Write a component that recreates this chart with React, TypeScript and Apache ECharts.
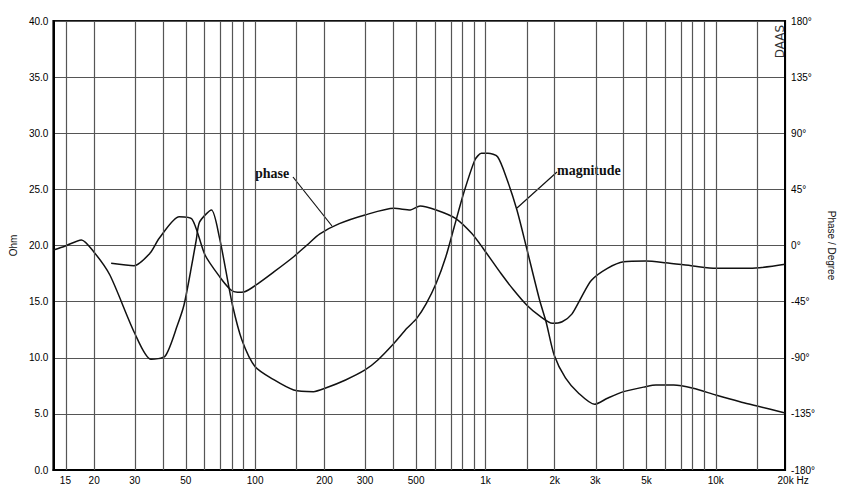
import React, { useEffect, useRef } from 'react';
import * as echarts from 'echarts';

// Magnitude (Ohm) vs frequency (Hz)
const magFreq = [13.3, 15, 17.6, 19.9, 23.4, 30, 35.3, 40.7, 46, 49.1, 52.4, 55.5, 57.4, 64.6, 70.1, 74.3, 79.7, 87.6, 100, 121, 147, 179, 201, 247, 300, 341, 401, 456, 503, 554, 611, 673, 732, 804, 900, 960, 1025, 1129, 1243, 1370, 1510, 1718, 1833, 1987, 2225, 2532, 2977, 3385, 3981, 4958, 5499, 6567, 7971, 10000, 12740, 14970, 20000];
const magOhm = [19.6, 19.96, 20.5, 19.45, 17.37, 12.18, 9.86, 10.16, 12.92, 14.7, 17.64, 20.49, 22.1, 23.16, 20.64, 17.96, 14.7, 11.58, 9.2, 8.02, 7.13, 6.98, 7.28, 8.02, 8.91, 9.8, 11.29, 12.62, 13.51, 14.85, 16.63, 19.0, 21.67, 24.65, 27.62, 28.21, 28.21, 27.91, 25.84, 23.16, 19.75, 15.14, 13.21, 10.24, 8.2, 6.86, 5.85, 6.39, 6.98, 7.42, 7.57, 7.57, 7.28, 6.68, 6.08, 5.73, 5.08];

// Phase (degree) vs frequency (Hz)
const phaseFreq = [23.7, 29.8, 34.9, 38.4, 46.8, 53.2, 60.6, 70.1, 78.5, 83.7, 89.3, 103.3, 121, 147, 168, 191, 232, 300, 401, 472, 520, 611, 741, 871, 976, 1166, 1326, 1510, 1718, 1954, 2153, 2372, 2600, 2880, 3385, 3981, 4958, 6058, 7971, 10000, 14050, 20000];
const phaseDeg = [-14.3, -16.2, -6.3, 6, 23.1, 21.2, -7.6, -25, -35.7, -37.5, -37.3, -30.3, -21, -9, 0.4, 9.3, 17.5, 24.5, 29.8, 28.5, 31.7, 28.5, 21.8, 9.8, -2.2, -22.3, -35.7, -47.7, -56.5, -62.4, -61.1, -55, -42, -28, -18.3, -13, -12.4, -13.8, -16.4, -18.3, -18.3, -15];

// Axis ticks
const freqLabels = [15, 20, 30, 50, 100, 200, 300, 500, 1000, 2000, 3000, 5000, 10000, 20000];
const gridFreqs = [15, 20, 30, 40, 50, 60, 70, 80, 90, 100, 150, 200, 300, 400, 500, 600, 700, 800, 900, 1000, 1500, 2000, 3000, 4000, 5000, 6000, 7000, 8000, 9000, 10000, 15000];
const freqMin = 13.3;
const freqMax = 20000;

const lg = (v: number) => Math.log10(v);

export default function App() {
  const ref = useRef<HTMLDivElement>(null);
  useEffect(() => {
    if (!ref.current) return;
    const chart = echarts.init(ref.current, null, { renderer: 'svg' });
    const labelFont = { fontFamily: 'Liberation Sans Narrow, Liberation Sans, Arial', fontSize: 10, color: '#000' };
    const magData = magFreq.map((f, i) => [lg(f), magOhm[i]]);
    const phaseData = phaseFreq.map((f, i) => [lg(f), phaseDeg[i]]);
    chart.setOption({
      animation: false,
      backgroundColor: '#fff',
      grid: { left: 39, right: 52, top: 21, bottom: 27, show: true, borderColor: '#111', borderWidth: 2 },
      xAxis: {
        type: 'value',
        min: lg(freqMin),
        max: lg(freqMax),
        axisLine: { show: true, lineStyle: { color: '#000', width: 2 } },
        axisTick: { show: false },
        splitLine: { show: false },
        axisLabel: {
          ...labelFont,
          margin: 5,
          customValues: freqLabels.map(lg),
          formatter: (v: number) => {
            const f = Math.round(Math.pow(10, v));
            if (f === 20000) return '{u|20k Hz}';
            return f >= 1000 ? f / 1000 + 'k' : String(f);
          },
          rich: { u: { ...labelFont, padding: [0, 0, 0, 16] } },
        },
      },
      yAxis: [
        {
          type: 'value',
          min: 0,
          max: 40,
          interval: 5,
          name: 'Ohm',
          nameLocation: 'middle',
          nameRotate: 90,
          nameGap: 26,
          nameTextStyle: { fontFamily: 'Liberation Sans Narrow, Liberation Sans, Arial', fontSize: 10, color: '#111' },
          axisLine: { show: true, lineStyle: { color: '#000', width: 2 } },
          axisTick: { show: false },
          axisLabel: { ...labelFont, margin: 5, formatter: (v: number) => v.toFixed(1) },
          splitLine: { show: true, lineStyle: { color: '#555', width: 1.2 } },
        },
        {
          type: 'value',
          min: -180,
          max: 180,
          interval: 45,
          position: 'right',
          name: 'Phase / Degree',
          nameLocation: 'middle',
          nameRotate: -90,
          nameGap: 30,
          nameTextStyle: { fontFamily: 'Liberation Sans Narrow, Liberation Sans, Arial', fontSize: 10, color: '#111' },
          axisLine: { show: true, lineStyle: { color: '#000', width: 2 } },
          axisTick: { show: false },
          axisLabel: { ...labelFont, margin: 6, formatter: (v: number) => v + '°' },
          splitLine: { show: false },
        },
      ],
      series: [
        {
          name: 'grid',
          type: 'line',
          data: magData,
          z: 1,
          showSymbol: false,
          silent: true,
          lineStyle: { opacity: 0, width: 0 },
          markLine: {
            silent: true,
            symbol: ['none', 'none'],
            label: { show: false },
            lineStyle: { color: '#555', width: 1.2, type: 'solid' },
            data: gridFreqs.map((f) => ({ xAxis: lg(f) })),
          },
        },
        {
          name: 'magnitude',
          type: 'line',
          data: magData,
          z: 3,
          showSymbol: false,
          smooth: 0.25,
          lineStyle: { color: '#111', width: 1.5 },
        },
        {
          name: 'phase',
          type: 'line',
          yAxisIndex: 1,
          data: phaseData,
          z: 3,
          showSymbol: false,
          smooth: 0.25,
          lineStyle: { color: '#111', width: 1.5 },
        },
      ],
      graphic: [
        {
          type: 'text',
          x: 255,
          y: 173,
          style: { text: 'phase', font: 'bold 14px "Liberation Serif", "DejaVu Serif", serif', fill: '#111', verticalAlign: 'middle' },
        },
        { type: 'line', shape: { x1: 293, y1: 177, x2: 332, y2: 226 }, style: { stroke: '#111', lineWidth: 1.2 } },
        {
          type: 'text',
          x: 557,
          y: 170,
          style: { text: 'magnitude', font: 'bold 14px "Liberation Serif", "DejaVu Serif", serif', fill: '#111', verticalAlign: 'middle' },
        },
        { type: 'line', shape: { x1: 557, y1: 172, x2: 517, y2: 208 }, style: { stroke: '#111', lineWidth: 1.2 } },
        {
          type: 'text',
          x: 779.5,
          y: 41.5,
          rotation: Math.PI / 2,
          style: { text: 'DAAS', font: '12px "DejaVu Sans", sans-serif', fill: '#333', align: 'center', verticalAlign: 'middle' },
        },
      ],
    });
    return () => chart.dispose();
  }, []);
  return <div ref={ref} style={{ position: 'fixed', left: 0, top: 0, width: 844, height: 497, background: '#fff' }} />;
}
